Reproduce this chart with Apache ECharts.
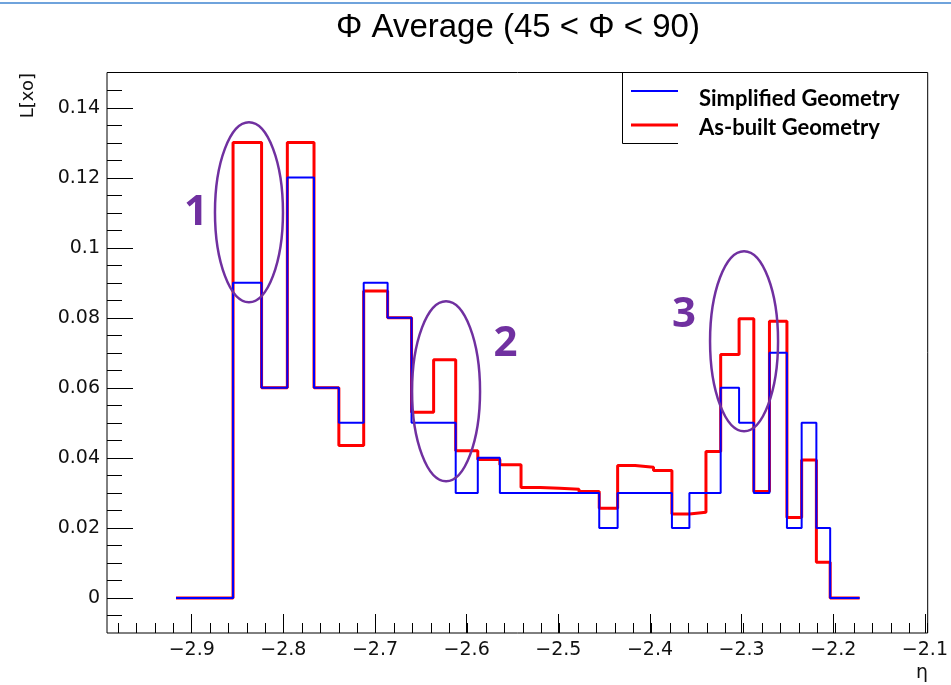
<!DOCTYPE html>
<html><head><meta charset="utf-8">
<script src="https://cdn.jsdelivr.net/npm/echarts@6/dist/echarts.min.js"></script>
<style>html,body{margin:0;padding:0;background:#fff}#c{width:951px;height:685px}</style>
</head><body><div id="c"></div>
<script>
// ---- data ----
const binEdges = [-2.917,-2.855,-2.824,-2.796,-2.767,-2.740,-2.713,-2.687,-2.661,-2.637,-2.613,-2.589,-2.565,-2.542,-2.521,-2.500,-2.479,-2.457,-2.437,-2.418,-2.398,-2.378,-2.359,-2.341,-2.325,-2.305,-2.289,-2.272,-2.253,-2.237,-2.221,-2.206,-2.174];
const simplified = [0,0.09,0.06,0.12,0.06,0.05,0.09,0.08,0.05,0.05,0.03,0.04,0.03,0.03,0.03,0.03,0.03,0.02,0.03,0.03,0.03,0.02,0.03,0.03,0.06,0.05,0.03,0.07,0.02,0.05,0.02,0];
const asBuilt = [0,0.130,0.060,0.130,0.060,0.0435,0.0876,0.080,0.053,0.068,0.042,0.0395,0.038,0.0315,0.0313,0.031,0.0304,0.0256,0.0378,0.0373,0.0364,0.024,0.0245,0.0418,0.0695,0.0797,0.0304,0.079,0.023,0.0394,0.0102,0];
const seriesNames = ['Simplified Geometry','As-built Geometry'];
const seriesColors = ['#0000ff','#ff0000'];
const xTickValues = [-2.9,-2.8,-2.7,-2.6,-2.5,-2.4,-2.3,-2.2,-2.1];
const xTickLabels = ['\u22122.9','\u22122.8','\u22122.7','\u22122.6','\u22122.5','\u22122.4','\u22122.3','\u22122.2','\u22122.1'];
const yTickValues = [0,0.02,0.04,0.06,0.08,0.1,0.12,0.14];
const yTickLabels = ['0','0.02','0.04','0.06','0.08','0.1','0.12','0.14'];
const titleText = '\u03A6 Average (45 < \u03A6 < 90)';
const xTitle = '\u03B7';
const yTitle = 'L[xo]';
const calloutLabels = ['1','2','3'];
const calloutEllipseCenters = [[-2.8377,0.1101],[-2.6235,0.059],[-2.2996,0.0733]];
const calloutTextCenters = [[-2.8953,0.1099],[-2.5588,0.0724],[-2.3648,0.0807]];

// ---- chart ----
const X_MIN = -2.992, X_MAX = -2.1, Y_MIN = -0.01, Y_MAX = 0.15;
const chart = echarts.init(document.getElementById('c'), null, {renderer:'canvas'});
function stepData(vals){ return binEdges.map((e,i)=>[e, vals[Math.min(i, vals.length-1)]]); }
function lookup(vals, labels, v){
  let best = 0, d = Infinity;
  vals.forEach((t,i)=>{ const dd = Math.abs(t-v); if(dd<d){d=dd;best=i;} });
  return d < 1e-6 ? labels[best] : '';
}
const labelFont = {fontFamily:'DejaVu Sans', fontSize:19, color:'#111'};
const tickLine = {color:'#000', width:1};
const hiddenAxis = {show:false};

const option = {
  animation:false,
  backgroundColor:'#fff',
  title:{text:titleText, left:331, top:6, textStyle:{fontFamily:'Liberation Sans', fontSize:33, fontWeight:'normal', color:'#000'}},
  legend:{
    data:seriesNames, orient:'vertical', left:631, top:86, padding:0,
    itemWidth:47, itemHeight:14, itemGap:4, selectedMode:false, z:10,
    itemStyle:{opacity:0}, lineStyle:{opacity:0},
    textStyle:{fontFamily:'Lato', fontWeight:'bold', fontSize:22, color:'#000', lineHeight:25, padding:[0,0,0,15]}
  },
  grid:[
    {left:107, right:23.3, top:72.5, bottom:52, show:true, borderColor:'#000', borderWidth:1, containLabel:false},
    {left:191.7, right:23.3, top:72.5, bottom:52, show:false, containLabel:false},
    {left:118.1, right:23.3, top:72.5, bottom:52, show:false, containLabel:false},
    {left:107, right:23.3, top:90.5, bottom:69.5, show:false, containLabel:false},
    {left:107, right:23.3, top:108, bottom:87, show:false, containLabel:false}
  ],
  xAxis:[
    {gridIndex:0, type:'value', min:X_MIN, max:X_MAX, axisLine:{show:false}, axisTick:{show:false}, axisLabel:{show:false}, splitLine:{show:false}},
    {gridIndex:1, type:'value', min:-2.9, max:-2.1, interval:0.1, axisLine:{show:false},
      axisTick:{show:true, inside:true, length:19, lineStyle:tickLine},
      axisLabel:{show:true, margin:8, ...labelFont, formatter:v=>lookup(xTickValues,xTickLabels,v)}, splitLine:{show:false}},
    {gridIndex:2, type:'value', min:-2.98, max:-2.1, interval:0.02, axisLine:{show:false},
      axisTick:{show:true, inside:true, length:10, lineStyle:tickLine}, axisLabel:{show:false}, splitLine:{show:false}},
    {gridIndex:3, ...hiddenAxis, type:'value'},
    {gridIndex:4, ...hiddenAxis, type:'value'}
  ],
  yAxis:[
    {gridIndex:0, type:'value', min:Y_MIN, max:Y_MAX, axisLine:{show:false}, axisTick:{show:false}, axisLabel:{show:false}, splitLine:{show:false}},
    {gridIndex:1, ...hiddenAxis, type:'value'},
    {gridIndex:2, ...hiddenAxis, type:'value'},
    {gridIndex:3, type:'value', min:-0.005, max:0.145, interval:0.005, axisLine:{show:false},
      axisTick:{show:true, inside:true, length:15, lineStyle:tickLine}, axisLabel:{show:false}, splitLine:{show:false}},
    {gridIndex:4, type:'value', min:0, max:0.14, interval:0.02, axisLine:{show:false},
      axisTick:{show:true, inside:true, length:26, lineStyle:tickLine},
      axisLabel:{show:true, margin:7, ...labelFont, formatter:v=>lookup(yTickValues,yTickLabels,v)}, splitLine:{show:false}}
  ],
  series:[
    {name:seriesNames[1], type:'line', step:'end', xAxisIndex:0, yAxisIndex:0, data:stepData(asBuilt),
      symbol:'none', lineStyle:{color:seriesColors[1], width:3}, itemStyle:{color:seriesColors[1]}, z:3},
    {name:seriesNames[0], type:'line', step:'end', xAxisIndex:0, yAxisIndex:0, data:stepData(simplified),
      symbol:'none', lineStyle:{color:seriesColors[0], width:2}, itemStyle:{color:seriesColors[0]}, z:4}
  ]
};
chart.setOption(option);

const purple = '#7030a0';
const els = [
  {type:'line', shape:{x1:0, y1:3, x2:951, y2:3}, style:{stroke:'#6fa3dc', lineWidth:2}},
  {type:'polyline', shape:{points:[[622.5,72.5],[622.5,143.5],[678,143.5]]}, style:{stroke:'#000', lineWidth:1, fill:null}},
  // legend key lines (placed as in the reference, slightly above their labels)
  {type:'line', shape:{x1:631, y1:91, x2:678, y2:91}, style:{stroke:seriesColors[0], lineWidth:2}, z:10},
  {type:'line', shape:{x1:631, y1:125, x2:678, y2:125}, style:{stroke:seriesColors[1], lineWidth:3}, z:10},
  {type:'text', x:28, y:73, rotation:Math.PI/2, style:{text:yTitle, fontFamily:'DejaVu Sans', fontSize:18, fill:'#111', align:'right', verticalAlign:'middle'}},
  {type:'text', x:928, y:673, style:{text:xTitle, fontFamily:'DejaVu Sans', fontSize:19, fill:'#111', align:'right', verticalAlign:'middle'}}
];
calloutLabels.forEach((lab,i)=>{
  const c = chart.convertToPixel({gridIndex:0}, calloutEllipseCenters[i]);
  const t = chart.convertToPixel({gridIndex:0}, calloutTextCenters[i]);
  els.push({type:'ellipse', shape:{cx:c[0], cy:c[1], rx:34, ry:90}, style:{fill:null, stroke:purple, lineWidth:2.5}, z:20});
  els.push({type:'text', x:t[0], y:t[1], style:{text:lab, fontFamily:'Open Sans', fontWeight:'bold', fontSize:42, fill:purple, align:'center', verticalAlign:'middle'}, z:20});
});
chart.setOption({graphic:{elements:els}});
</script>
</body></html>
